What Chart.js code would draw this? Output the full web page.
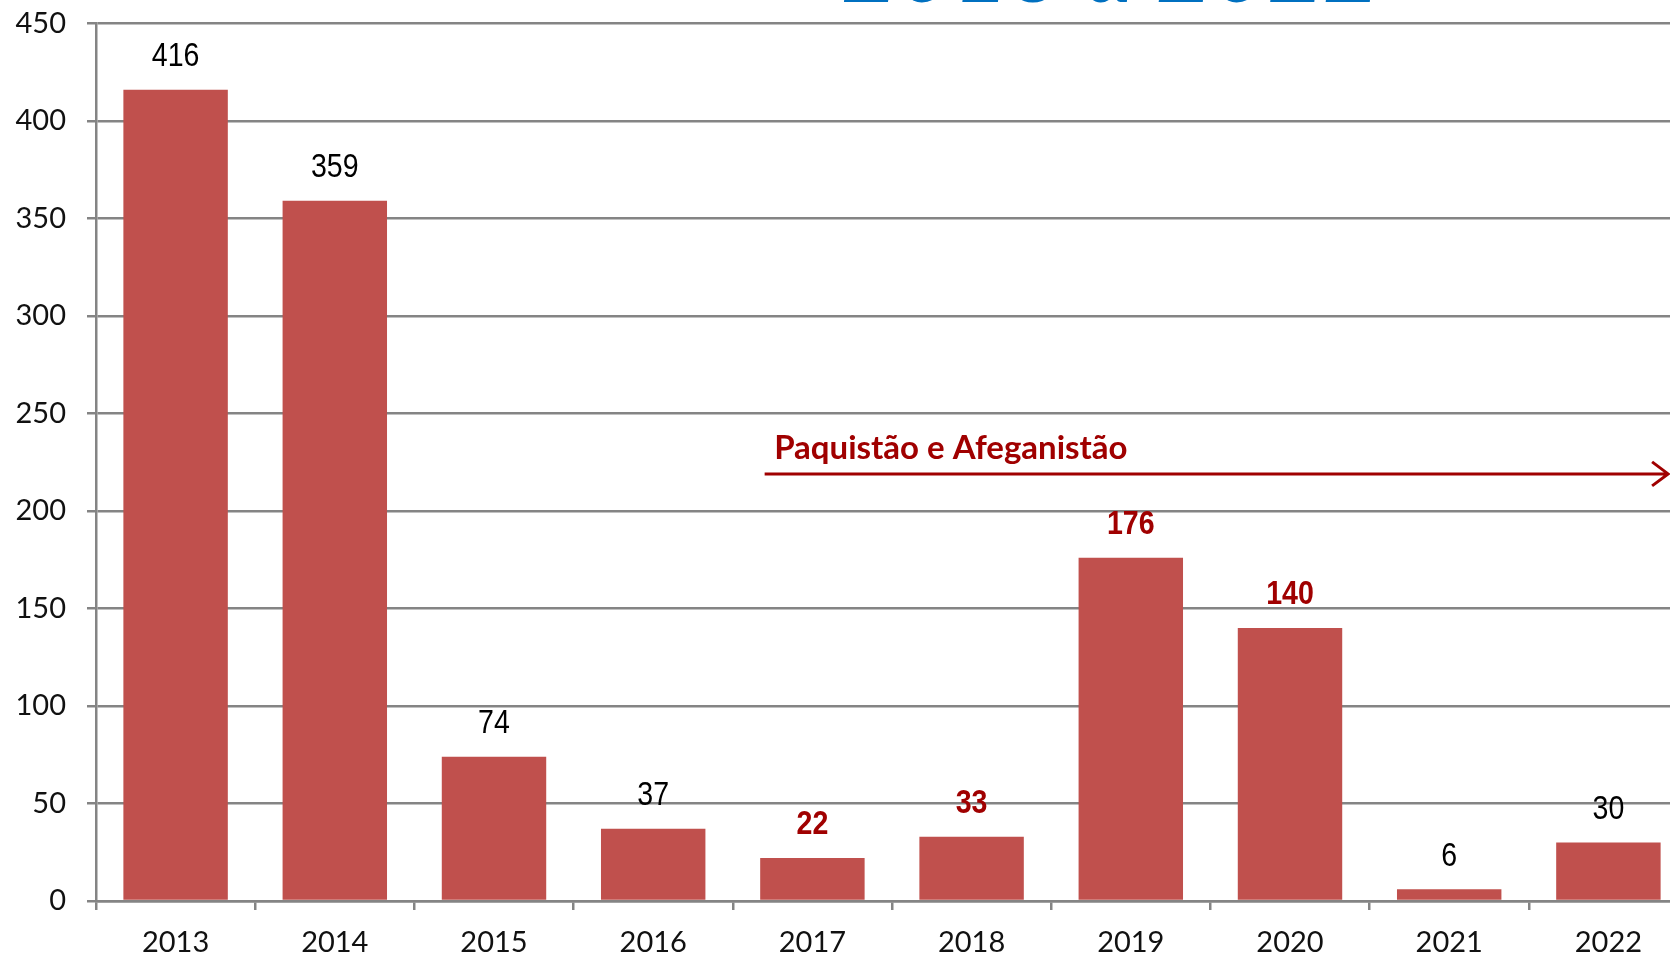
<!DOCTYPE html>
<html>
<head>
<meta charset="utf-8">
<script src="https://cdn.jsdelivr.net/npm/chart.js@4"></script>
<style>
  html, body { margin: 0; padding: 0; background: #fff; overflow: hidden; width: 1670px; height: 957px; }
  canvas { display: block; margin-top: -15px; }
</style>
</head>
<body>
<canvas id="theChart" width="1700" height="972"></canvas>
<script>
'use strict';

// chart data
const years = ['2013', '2014', '2015', '2016', '2017', '2018', '2019', '2020', '2021', '2022'];
const counts = [416, 359, 74, 37, 22, 33, 176, 140, 6, 30];
const highlightYears = ['2017', '2018', '2019', '2020'];
const yTicks = [0, 50, 100, 150, 200, 250, 300, 350, 400, 450];
const noteText = 'Paquistão e Afeganistão';
const titleText = '2013 a 2022';

const barColor = '#C0504D';
const darkRed = '#A00000';
const gridColor = '#848484';

// value labels above each bar (squeezed a bit, the original font is narrow)
const valueLabels = {
  id: 'valueLabels',
  afterDatasetsDraw(chart) {
    let ctx = chart.ctx;
    let meta = chart.getDatasetMeta(0);
    meta.data.forEach(function (bar, i) {
      let red = highlightYears.includes(years[i]);
      ctx.save();
      ctx.translate(bar.x, bar.y - 33);
      ctx.scale(0.84, 1);
      ctx.textAlign = 'center';
      ctx.textBaseline = 'middle';
      ctx.fillStyle = red ? darkRed : '#000';
      ctx.font = (red ? 'bold ' : '') + '34px "Liberation Sans", Arial, sans-serif';
      ctx.fillText(String(counts[i]), 0, 0);
      ctx.restore();
    });
  }
};

// arrow note + cropped title
const noteArrow = {
  id: 'noteArrow',
  afterDraw(chart) {
    let ctx = chart.ctx;
    let x = chart.scales.x;
    let y = chart.scales.y;
    let x0 = x.getPixelForValue(3.70);
    let x1 = x.getPixelForValue(9.375);
    let yl = y.getPixelForValue(219);
    ctx.save();
    ctx.strokeStyle = darkRed;
    ctx.lineWidth = 3;
    ctx.beginPath();
    ctx.moveTo(x0, yl);
    ctx.lineTo(x1, yl);
    ctx.moveTo(x1 - 16, yl - 12);
    ctx.lineTo(x1, yl);
    ctx.lineTo(x1 - 16, yl + 12);
    ctx.stroke();

    ctx.fillStyle = darkRed;
    ctx.font = 'bold 33px Lato, sans-serif';
    ctx.textAlign = 'left';
    ctx.textBaseline = 'middle';
    ctx.fillText(noteText, x.getPixelForValue(3.76), y.getPixelForValue(232));

    // title sits mostly above the visible area
    ctx.fillStyle = '#0070C0';
    ctx.font = 'bold italic 96px Lato, sans-serif';
    ctx.textBaseline = 'alphabetic';
    ctx.fillText(titleText, 842, 17);
    ctx.restore();
  }
};

const data = {
  labels: years,
  datasets: [{
    label: 'Total',
    data: counts,
    backgroundColor: barColor,
    borderWidth: 0,
    categoryPercentage: 1,
    barPercentage: 0.656
  }]
};

const config = {
  type: 'bar',
  data: data,
  options: {
    responsive: false,
    animation: false,
    layout: { padding: { top: 23, right: 12, left: 0, bottom: 0 } },
    plugins: {
      legend: { display: false },
      tooltip: { enabled: false }
    },
    scales: {
      x: {
        afterFit(scale) { scale.height = 56; },
        border: { display: true, color: gridColor, width: 2.5 },
        grid: { display: true, drawOnChartArea: false, drawTicks: true, tickLength: 9, color: gridColor, lineWidth: 2.5 },
        ticks: { color: '#111', font: { family: 'Lato', size: 29 }, padding: 15 }
      },
      y: {
        min: 0,
        max: 450,
        afterFit(scale) { scale.width = 96; },
        afterBuildTicks(scale) { scale.ticks = yTicks.map(v => ({ value: v })); },
        border: { display: true, color: gridColor, width: 2.5 },
        grid: { color: gridColor, lineWidth: 2.5, tickLength: 9 },
        ticks: { color: '#111', font: { family: 'Lato', size: 29 }, padding: 21 }
      }
    }
  },
  plugins: [valueLabels, noteArrow]
};

new Chart(document.getElementById('theChart'), config);
</script>
</body>
</html>
